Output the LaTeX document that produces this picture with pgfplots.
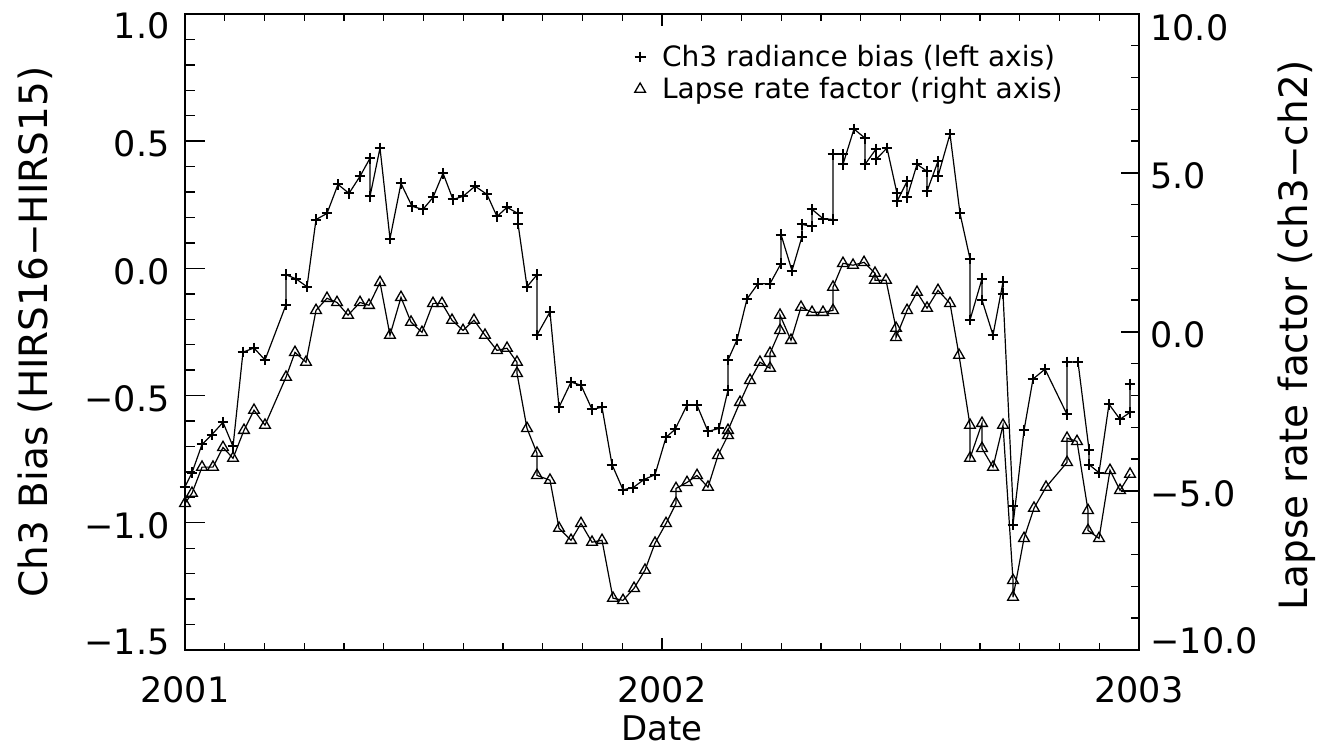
\documentclass[border=0pt]{standalone}
\usepackage{fontspec}
\setmainfont{DejaVu Sans}
\usepackage{pgfplots}
\pgfplotsset{compat=1.18}
\newcommand{\tl}[2]{\smash{\raisebox{#1}{#2}}}
\pgfplotsset{
  plusser/.style={black, line width=0.6pt, mark=+, mark size=2.7pt, mark options={line width=1pt, solid}},
  triser/.style={black, line width=0.6pt, mark=triangle, mark size=3.1pt, mark options={line width=0.65pt, solid}},
  boxax/.style={at={(0,0)}, anchor=south west, scale only axis, width=477pt, height=318pt,
    xmin=0, xmax=24, tick align=inside, axis line style={line width=0.8pt, black},
    tick style={line width=0.7pt, black}},
}
\begin{document}
\begin{tikzpicture}
\useasboundingbox (-92.5pt,-49pt) rectangle (570pt,325pt);
% x axis ticks and labels
\begin{axis}[boxax, ymin=0, ymax=1, ytick=\empty,
  xtick={0,12,24}, xticklabels={2001,2002,2003}, minor x tick num=11,
  xtick pos=both, xticklabel pos=left,
  major tick length=6pt, minor tick length=3.5pt,
  xticklabel style={font=\fontsize{17.5}{20}\selectfont, anchor=center, yshift=-20pt, inner sep=0pt},
  xlabel={Date},
  xlabel style={at={(axis description cs:0.5,-0.123)}, anchor=center, font=\fontsize{17}{20}\selectfont}]
\end{axis}
% left axis: Ch3 radiance bias
\begin{axis}[boxax, ymin=-1.5, ymax=1.0, xtick=\empty,
  ytick={-1.5,-1.0,-0.5,0,0.5,1.0}, minor y tick num=4,
  ytick pos=left, major tick length=10pt, minor tick length=5pt,
  yticklabels={\tl{-2.4pt}{−1.5},\tl{-7.9pt}{−1.0},\tl{-7.9pt}{−0.5},\tl{-7.9pt}{0.0},\tl{-7.9pt}{0.5},\tl{-12.4pt}{1.0}},
  yticklabel style={font=\fontsize{17.5}{20}\selectfont, anchor=east, inner sep=0pt, xshift=-7.5pt},
  ylabel={Ch3 Bias (HIRS16−HIRS15)},
  ylabel style={at={(axis description cs:-0.157,0.5)}, anchor=center, font=\fontsize{19.5}{22}\selectfont}]
\addplot[plusser] coordinates {
(0.00,-0.858) (0.176,-0.803) (0.428,-0.692) (0.679,-0.653) (0.956,-0.605) (1.208,-0.700)
(1.459,-0.329) (1.736,-0.313) (2.013,-0.360) (2.541,-0.143) (2.541,-0.025) (2.792,-0.041)
(3.069,-0.072) (3.296,0.192) (3.572,0.216) (3.849,0.330) (4.126,0.295) (4.403,0.362)
(4.654,0.433) (4.654,0.283) (4.906,0.473) (5.157,0.117) (5.434,0.334) (5.711,0.244)
(5.987,0.232) (6.239,0.279) (6.491,0.374) (6.742,0.271) (6.994,0.283) (7.296,0.323)
(7.597,0.291) (7.849,0.204) (8.101,0.240) (8.377,0.216) (8.377,0.176) (8.604,-0.072)
(8.855,-0.025) (8.855,-0.262) (9.182,-0.171) (9.409,-0.546) (9.711,-0.447) (9.962,-0.459)
(10.239,-0.554) (10.491,-0.546) (10.742,-0.771) (11.019,-0.870) (11.270,-0.862) (11.547,-0.830)
(11.824,-0.811) (12.101,-0.664) (12.327,-0.633) (12.629,-0.538) (12.881,-0.538) (13.157,-0.641)
(13.434,-0.629) (13.660,-0.479) (13.660,-0.360) (13.887,-0.281) (14.138,-0.120) (14.415,-0.060)
(14.717,-0.060) (14.994,0.019) (14.994,0.133) (15.270,-0.009) (15.522,0.125) (15.522,0.173)
(15.774,0.165) (15.774,0.232) (16.050,0.196) (16.302,0.192) (16.302,0.449) (16.553,0.449)
(16.553,0.409) (16.830,0.548) (17.107,0.512) (17.107,0.409) (17.384,0.469) (17.384,0.429)
(17.660,0.473) (17.912,0.295) (17.912,0.263) (18.164,0.342) (18.164,0.279) (18.415,0.409)
(18.667,0.382) (18.667,0.303) (18.943,0.421) (18.943,0.362) (19.245,0.528) (19.497,0.216)
(19.748,0.038) (19.748,-0.203) (20.050,-0.041) (20.050,-0.124) (20.327,-0.262) (20.579,-0.053)
(20.579,-0.100) (20.830,-0.933) (20.830,-1.008) (21.107,-0.637) (21.333,-0.435) (21.635,-0.396)
(22.189,-0.574) (22.189,-0.368) (22.465,-0.368) (22.742,-0.712) (22.742,-0.771) (22.994,-0.803)
(23.245,-0.534) (23.522,-0.593) (23.774,-0.566) (23.774,-0.455)
};
\end{axis}
% right axis: lapse rate factor
\begin{axis}[boxax, ymin=-10, ymax=10, xtick=\empty,
  ytick={-10,-5,0,5,10}, minor y tick num=4,
  ytick pos=right, yticklabel pos=right, major tick length=9pt, minor tick length=4pt,
  yticklabels={\tl{-1.9pt}{−10.0},\tl{-7.9pt}{−5.0},\tl{-7.9pt}{0.0},\tl{-7.9pt}{5.0},\tl{-13.1pt}{10.0}},
  yticklabel style={font=\fontsize{17.5}{20}\selectfont, anchor=west, inner sep=0pt, xshift=5.5pt},
  ylabel={Lapse rate factor (ch3−ch2)},
  ylabel style={at={(axis description cs:1.1656,0.495)}, anchor=center, font=\fontsize{19.5}{22}\selectfont},
  legend style={at={(axis description cs:0.471,0.953)}, anchor=north west, draw=none, fill=none,
    inner sep=0pt, nodes={inner sep=0.25pt}, font=\fontsize{14}{16}\selectfont, row sep=3.5pt,
    /tikz/every odd column/.append style={column sep=8pt}},
  legend cell align=left]
\addlegendimage{plusser, only marks}
\addlegendentry{Ch3 radiance bias (left axis)}
\addlegendimage{triser, only marks}
\addlegendentry{Lapse rate factor (right axis)}
\addplot[triser, forget plot] coordinates {
(0.00,-5.39) (0.176,-5.07) (0.428,-4.25) (0.704,-4.25) (0.956,-3.63) (1.208,-3.97)
(1.484,-3.09) (1.736,-2.46) (2.013,-2.93) (2.541,-1.42) (2.767,-0.64) (3.044,-0.95)
(3.296,0.68) (3.572,1.06) (3.824,0.93) (4.101,0.53) (4.403,0.93) (4.629,0.84)
(4.906,1.56) (5.157,-0.10) (5.434,1.09) (5.686,0.31) (5.962,-0.01) (6.239,0.90)
(6.465,0.90) (6.717,0.37) (6.994,0.05) (7.270,0.37) (7.547,-0.10) (7.849,-0.58)
(8.101,-0.51) (8.352,-0.95) (8.352,-1.30) (8.604,-3.03) (8.855,-3.81) (8.855,-4.51)
(9.182,-4.66) (9.409,-6.17) (9.711,-6.55) (9.962,-6.02) (10.239,-6.61) (10.491,-6.55)
(10.767,-8.37) (11.019,-8.44) (11.296,-8.06) (11.572,-7.49) (11.824,-6.64) (12.101,-6.02)
(12.352,-5.39) (12.352,-4.92) (12.629,-4.73) (12.881,-4.51) (13.157,-4.88) (13.409,-3.88)
(13.660,-3.25) (13.660,-3.09) (13.962,-2.21) (14.214,-1.52) (14.465,-0.95) (14.717,-1.14)
(14.717,-0.67) (14.969,0.05) (14.969,0.53) (15.245,-0.26) (15.497,0.78) (15.774,0.62)
(16.050,0.62) (16.302,0.68) (16.302,1.41) (16.553,2.16) (16.805,2.10) (17.082,2.19)
(17.358,1.85) (17.358,1.63) (17.635,1.63) (17.887,0.12) (17.887,-0.17) (18.164,0.68)
(18.415,1.25) (18.667,0.75) (18.943,1.31) (19.245,0.90) (19.472,-0.73) (19.748,-2.93)
(19.748,-3.97) (20.050,-2.87) (20.050,-3.66) (20.327,-4.25) (20.579,-2.93) (20.830,-7.81)
(20.830,-8.34) (21.107,-6.49) (21.358,-5.54) (21.660,-4.88) (22.189,-4.10) (22.189,-3.34)
(22.440,-3.44) (22.717,-5.61) (22.717,-6.24) (22.994,-6.49) (23.270,-4.35) (23.522,-4.98)
(23.774,-4.47)
};
\end{axis}
\end{tikzpicture}
\end{document}
